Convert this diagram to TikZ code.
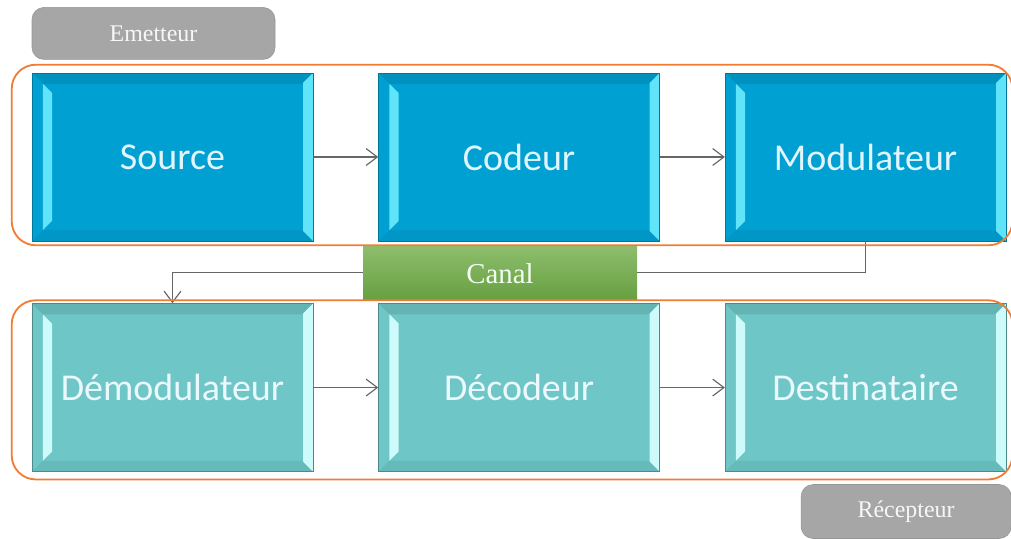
\documentclass[tikz,border=0pt]{standalone}
\usepackage{fontspec}
\setmainfont{Liberation Serif}
\setsansfont{Carlito}
\usetikzlibrary{positioning,arrows.meta}

\definecolor{topblue}{RGB}{0,160,210}
\definecolor{topbevel}{RGB}{95,228,250}
\definecolor{lowteal}{RGB}{110,198,198}
\definecolor{lowbevel}{RGB}{205,250,250}
\definecolor{frameorange}{RGB}{240,125,50}
\definecolor{pillgrey}{RGB}{166,166,166}
\definecolor{canalgreen}{RGB}{112,173,71}

\tikzset{
  >={Straight Barb[length=8pt,width=12pt]},
  bevel/.style={path picture={
      \coordinate (nw) at (path picture bounding box.north west);
      \coordinate (ne) at (path picture bounding box.north east);
      \coordinate (sw) at (path picture bounding box.south west);
      \coordinate (se) at (path picture bounding box.south east);
      \fill[black,opacity=.09] (nw) -- (ne) -- ([shift={(-.27,-.27)}]ne) -- ([shift={(.27,-.27)}]nw) -- cycle;
      \fill[black,opacity=.06] (sw) -- (se) -- ([shift={(-.27,.27)}]se) -- ([shift={(.27,.27)}]sw) -- cycle;
      \fill[#1] (ne) -- (se) -- ([shift={(-.25,.25)}]se) -- ([shift={(-.25,-.25)}]ne) -- cycle;
      \fill[#1] ([shift={(.27,-.27)}]nw) -- ([shift={(.5,-.5)}]nw) -- ([shift={(.5,.5)}]sw) -- ([shift={(.27,.27)}]sw) -- cycle;
  }},
  block/.style={minimum width=7.025cm, minimum height=4.2cm, inner sep=0pt,
    font=\sffamily\fontsize{27}{30}\selectfont},
  emitblock/.style={block, fill=topblue, draw=topblue!75!black, bevel=topbevel, text=white!88!cyan},
  recvblock/.style={block, fill=lowteal, draw=lowteal!70!black, bevel=lowbevel, text=white!92!cyan},
  pill/.style={rounded corners=0.3cm, fill=pillgrey, draw=pillgrey!90!black, text=white!94!gray,
    inner sep=0pt, font=\fontsize{17}{20}\selectfont},
  frame/.style={draw=frameorange, line width=1.3pt, rounded corners=0.6cm},
  link/.style={draw=black!60, line width=0.8pt},
}

\begin{document}
\begin{tikzpicture}
  \useasboundingbox (0,0) rectangle (25.275,13.475);

  \node[emitblock] (src) at (4.3125,9.55) {Source};
  \node[emitblock, right=1.625cm of src] (cod) {Codeur};
  \node[emitblock, right=1.625cm of cod] (mod) {Modulateur};

  \node[recvblock, below=1.55cm of src] (dem) {Démodulateur};
  \node[recvblock, right=1.625cm of dem] (dec) {Décodeur};
  \node[recvblock, right=1.625cm of dec] (dst) {Destinataire};

  \node[pill, minimum width=6.075cm, minimum height=1.3cm, anchor=south west] (em)
    at ([yshift=.325cm]src.north west) {Emetteur};
  \node[pill, minimum width=5.25cm, minimum height=1.35cm, anchor=north east] (rec)
    at ([shift={(.125,-.31)}]dst.south east) {Récepteur};

  \draw[link,->] (src) -- (cod);
  \draw[link,->] (cod) -- (mod);
  \draw[link,->] (dem) -- (dec);
  \draw[link,->] (dec) -- (dst);

  % canal link goes under the green box
  \draw[link,->] (mod.south) -- ++(0,-0.775) -| (dem.north);
  \node[minimum width=6.85cm, minimum height=1.325cm, inner sep=0pt,
    top color=canalgreen!80!white, bottom color=canalgreen!92!black,
    text=white!95!green, font=\fontsize{20.5}{23}\selectfont] (can) at (12.5,6.64) {Canal};

  \draw[frame] ([shift={(-.5,.2)}]src.north west) rectangle ([shift={(.15,-.1)}]mod.south east);
  \draw[frame] ([shift={(-.5,.075)}]dem.north west) rectangle ([shift={(.15,-.19)}]dst.south east);
\end{tikzpicture}
\end{document}
